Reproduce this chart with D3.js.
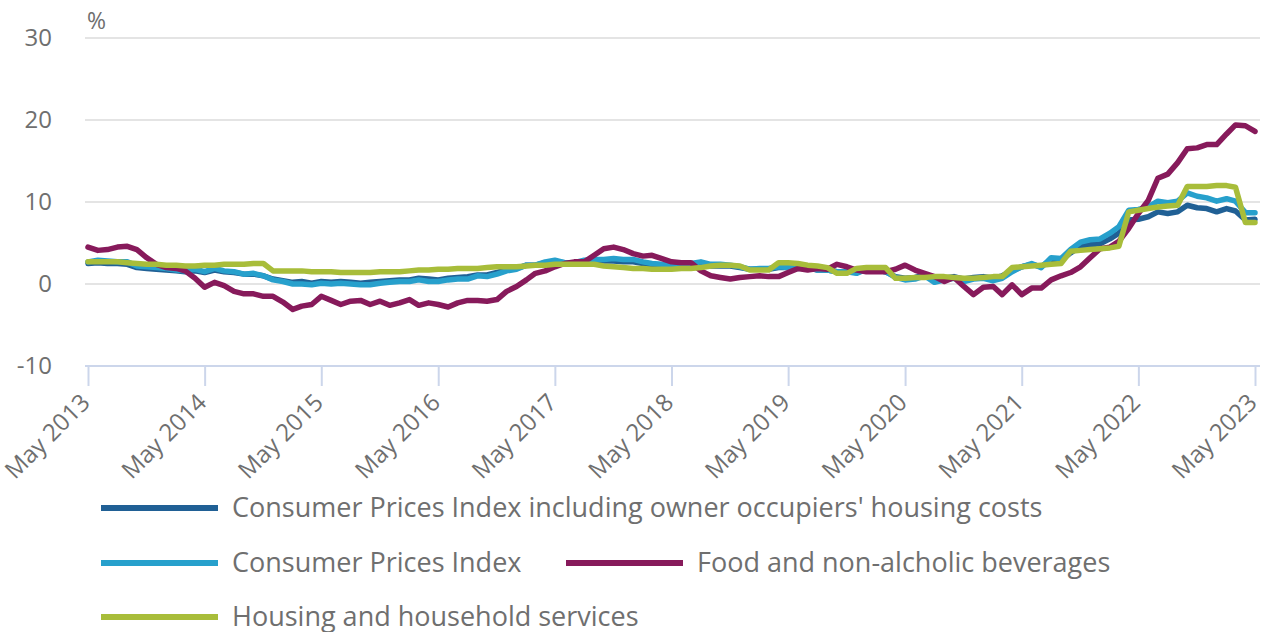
<!DOCTYPE html>
<html>
<head>
<meta charset="utf-8">
<script src="https://cdn.jsdelivr.net/npm/d3@7"></script>
<style>
  body { margin: 0; background: #fff; }
  svg { font-family: "Open Sans", sans-serif; }
</style>
</head>
<body>
<svg width="1264" height="632"></svg>
<script>
// annual rates, May 2013 - May 2023, monthly
var tickLabels = ["May 2013", "May 2014", "May 2015", "May 2016", "May 2017", "May 2018",
                  "May 2019", "May 2020", "May 2021", "May 2022", "May 2023"];

var cpih = [2.5, 2.6, 2.5, 2.5, 2.4, 2.0, 1.9, 1.8,
  1.7, 1.6, 1.5, 1.6, 1.4, 1.7, 1.5, 1.4, 1.2, 1.2, 1.0, 0.6,
  0.4, 0.2, 0.3, 0.1, 0.3, 0.2, 0.3, 0.2, 0.1, 0.2, 0.3, 0.4,
  0.5, 0.5, 0.7, 0.6, 0.5, 0.7, 0.8, 0.9, 1.1, 1.1, 1.4, 1.8,
  1.9, 2.3, 2.3, 2.6, 2.7, 2.6, 2.6, 2.7, 2.8, 2.8, 2.8, 2.7,
  2.7, 2.5, 2.3, 2.2, 2.3, 2.3, 2.3, 2.4, 2.2, 2.2, 2.2, 2.0,
  1.8, 1.8, 1.8, 2.0, 2.0, 1.9, 2.0, 1.7, 1.7, 1.5, 1.5, 1.4,
  1.8, 1.7, 1.5, 0.9, 0.7, 0.8, 1.1, 0.5, 0.7, 0.9, 0.6, 0.8,
  0.9, 0.7, 1.0, 1.6, 2.1, 2.4, 2.1, 3.0, 2.9, 3.8, 4.6, 4.8,
  4.9, 5.5, 6.2, 7.8, 7.9, 8.2, 8.8, 8.6, 8.8, 9.6, 9.3, 9.2,
  8.8, 9.2, 8.9, 7.8, 7.9];

var cpi = [2.7, 2.9, 2.8, 2.7, 2.7, 2.2, 2.1, 2.0,
  1.9, 1.7, 1.6, 1.8, 1.5, 1.9, 1.6, 1.5, 1.2, 1.3, 1.0, 0.5,
  0.3, 0.0, 0.0, -0.1, 0.1, 0.0, 0.1, 0.0, -0.1, -0.1, 0.1, 0.2,
  0.3, 0.3, 0.5, 0.3, 0.3, 0.5, 0.6, 0.6, 1.0, 0.9, 1.2, 1.6,
  1.8, 2.3, 2.3, 2.7, 2.9, 2.6, 2.6, 2.9, 3.0, 3.0, 3.1, 3.0,
  3.0, 2.7, 2.5, 2.4, 2.4, 2.4, 2.5, 2.7, 2.4, 2.4, 2.3, 2.1,
  1.8, 1.9, 1.9, 2.1, 2.0, 2.0, 2.1, 1.7, 1.7, 1.5, 1.5, 1.3,
  1.8, 1.7, 1.5, 0.8, 0.5, 0.6, 1.0, 0.2, 0.5, 0.7, 0.3, 0.6,
  0.7, 0.4, 0.7, 1.5, 2.1, 2.5, 2.0, 3.2, 3.1, 4.2, 5.1, 5.4,
  5.5, 6.2, 7.0, 9.0, 9.1, 9.4, 10.1, 9.9, 10.1, 11.1, 10.7, 10.5,
  10.1, 10.4, 10.1, 8.7, 8.7];

var food = [4.5, 4.1, 4.2, 4.5, 4.6, 4.2, 3.2, 2.4,
  2.0, 1.9, 1.6, 0.7, -0.4, 0.2, -0.2, -0.9, -1.2, -1.2, -1.5, -1.5,
  -2.2, -3.1, -2.7, -2.5, -1.5, -2.0, -2.5, -2.1, -2.0, -2.5, -2.1, -2.6,
  -2.3, -1.9, -2.6, -2.3, -2.5, -2.8, -2.3, -2.0, -2.0, -2.1, -1.9, -0.9,
  -0.3, 0.5, 1.3, 1.6, 2.1, 2.5, 2.7, 2.7, 3.5, 4.3, 4.5, 4.2,
  3.7, 3.4, 3.5, 3.1, 2.7, 2.6, 2.6, 1.6, 1.0, 0.8, 0.6, 0.8,
  0.9, 1.0, 0.9, 0.9, 1.4, 1.9, 1.7, 1.9, 1.8, 2.4, 2.1, 1.7,
  1.5, 1.5, 1.5, 1.8, 2.3, 1.7, 1.3, 0.9, 0.3, 0.8, -0.3, -1.3,
  -0.4, -0.3, -1.3, -0.1, -1.3, -0.5, -0.5, 0.5, 1.0, 1.4, 2.1, 3.2,
  4.3, 4.5, 5.2, 6.8, 8.6, 10.2, 12.9, 13.4, 14.8, 16.5, 16.6, 17.0,
  17.0, 18.3, 19.4, 19.3, 18.6];

var housing = [2.7, 2.7, 2.7, 2.7, 2.6, 2.5, 2.4, 2.4,
  2.3, 2.3, 2.2, 2.2, 2.3, 2.3, 2.4, 2.4, 2.4, 2.5, 2.5, 1.6,
  1.6, 1.6, 1.6, 1.5, 1.5, 1.5, 1.4, 1.4, 1.4, 1.4, 1.5, 1.5,
  1.5, 1.6, 1.7, 1.7, 1.8, 1.8, 1.9, 1.9, 1.9, 2.0, 2.1, 2.1,
  2.1, 2.2, 2.3, 2.3, 2.4, 2.4, 2.4, 2.4, 2.4, 2.2, 2.1, 2.0,
  1.9, 1.9, 1.8, 1.8, 1.8, 1.9, 1.9, 2.0, 2.2, 2.3, 2.3, 2.2,
  1.7, 1.7, 1.7, 2.6, 2.6, 2.5, 2.3, 2.2, 2.0, 1.3, 1.3, 1.9,
  2.0, 2.0, 2.0, 0.7, 0.7, 0.8, 0.8, 0.9, 0.9, 0.8, 0.7, 0.7,
  0.8, 0.9, 0.9, 2.0, 2.1, 2.2, 2.3, 2.4, 2.5, 4.0, 4.1, 4.2,
  4.3, 4.4, 4.6, 8.8, 9.0, 9.2, 9.4, 9.5, 9.6, 11.9, 11.9, 11.9,
  12.0, 12.0, 11.8, 7.5, 7.5];

var seriesNames = ["Consumer Prices Index including owner occupiers' housing costs",
                   "Consumer Prices Index",
                   "Food and non-alcholic beverages",
                   "Housing and household services"];
var seriesColors = ["#206095", "#27a0cc", "#871a5b", "#a8bd3a"];
var yTicks = [-10, 0, 10, 20, 30];

var svg = d3.select("svg");

var months = d3.timeMonth.range(new Date(2013, 4, 1), new Date(2023, 5, 1));
var tickDates = months.filter(function(d) { return d.getMonth() === 4; });

var x = d3.scaleTime().domain([months[0], months[months.length - 1]]).range([88, 1255]);
var y = d3.scaleLinear().domain([-10, 30]).range([366, 38]);

// gridlines
svg.append("g").selectAll("line")
    .data(yTicks.filter(function(d) { return d > -10; }))
  .enter().append("line")
    .attr("x1", 85).attr("x2", 1260)
    .attr("y1", function(d) { return y(d); })
    .attr("y2", function(d) { return y(d); })
    .attr("stroke", "#e4e4e4")
    .attr("stroke-width", 2);

// y labels
svg.append("g").selectAll("text")
    .data(yTicks)
  .enter().append("text")
    .attr("x", 52)
    .attr("y", function(d) { return y(d); })
    .attr("dy", "0.35em")
    .attr("text-anchor", "end")
    .attr("fill", "#6f6f6f")
    .style("font-size", "24px")
    .text(function(d) { return d; });

svg.append("text")
    .attr("x", 87).attr("y", 21)
    .attr("dy", "0.35em")
    .attr("fill", "#6f6f6f")
    .style("font-size", "23px")
    .text("%");

// x axis
var xAxis = d3.axisBottom(x)
    .tickValues(tickDates)
    .tickSize(20)
    .tickSizeOuter(0)
    .tickFormat(function(d, i) { return tickLabels[i]; });

var gx = svg.append("g")
    .attr("transform", "translate(0," + y(-10) + ")")
    .call(xAxis);

gx.select(".domain").remove();
gx.selectAll(".tick line").attr("stroke", "#ccd6eb").attr("stroke-width", 2);
gx.selectAll(".tick text")
    .attr("x", 0).attr("y", 0).attr("dy", "0.35em")
    .attr("transform", "translate(-3,32) rotate(-45)")
    .attr("text-anchor", "end")
    .attr("fill", "#6f6f6f")
    .style("font-size", "24px")
    .style("font-family", "'Open Sans', sans-serif");

svg.append("line")
    .attr("x1", 85).attr("x2", 1260)
    .attr("y1", y(-10)).attr("y2", y(-10))
    .attr("stroke", "#ccd6eb")
    .attr("stroke-width", 2);

// lines
var line = d3.line()
    .x(function(d, i) { return x(months[i]); })
    .y(function(d) { return y(d); });

[cpih, cpi, food, housing].forEach(function(s, k) {
  svg.append("path")
      .datum(s)
      .attr("fill", "none")
      .attr("stroke", seriesColors[k])
      .attr("stroke-width", 5.5)
      .attr("stroke-linejoin", "round")
      .attr("stroke-linecap", "round")
      .attr("d", line);
});

// legend
var legendPos = [{x: 101, y: 508}, {x: 101, y: 563}, {x: 566, y: 563}, {x: 101, y: 617}];

var lg = svg.append("g").selectAll("g")
    .data(seriesNames)
  .enter().append("g")
    .attr("transform", function(d, i) { return "translate(" + legendPos[i].x + "," + legendPos[i].y + ")"; });

lg.append("line")
    .attr("x1", 0).attr("x2", 117)
    .attr("stroke", function(d, i) { return seriesColors[i]; })
    .attr("stroke-width", 6);

lg.append("text")
    .attr("x", 131)
    .attr("dy", "0.35em")
    .attr("fill", "#6f6f6f")
    .style("font-size", "27px")
    .text(function(d) { return d; });
</script>
</body>
</html>
